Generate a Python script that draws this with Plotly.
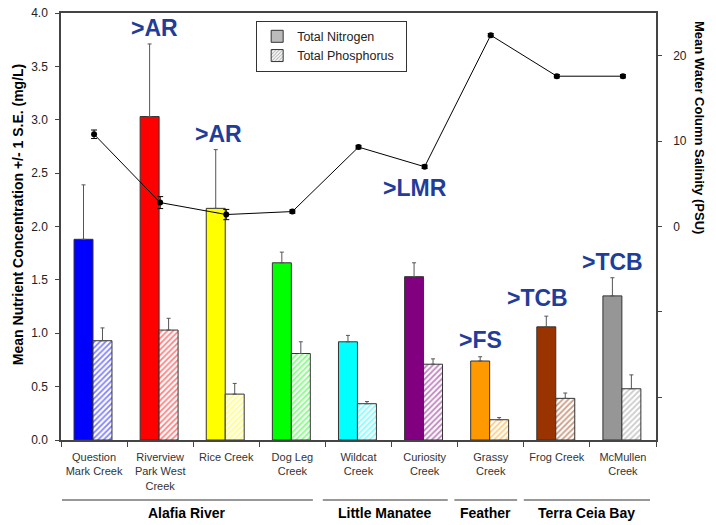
import plotly.graph_objects as go

creeks = ["Question<br>Mark Creek", "Riverview<br>Park West<br>Creek", "Rice Creek", "Dog Leg<br>Creek",
          "Wildcat<br>Creek", "Curiosity<br>Creek", "Grassy<br>Creek", "Frog Creek", "McMullen<br>Creek"]
nitrogen = [1.88, 3.03, 2.17, 1.66, 0.92, 1.53, 0.74, 1.06, 1.35]
nitrogen_se = [0.51, 0.68, 0.55, 0.10, 0.06, 0.13, 0.04, 0.10, 0.17]
phosphorus = [0.93, 1.03, 0.43, 0.81, 0.34, 0.71, 0.19, 0.39, 0.48]
phosphorus_se = [0.12, 0.11, 0.10, 0.11, 0.02, 0.05, 0.02, 0.05, 0.13]
salinity = [10.8, 2.8, 1.4, 1.75, 9.3, 7.0, 22.4, 17.6, 17.6]
salinity_se = [0.5, 0.7, 0.6, 0.2, 0.2, 0.2, 0.2, 0.2, 0.2]
colors = ["#0000FF", "#FF0000", "#FFFF00", "#00FF00", "#00FFFF", "#800080", "#FF9900", "#993300", "#969696"]
groups = ["Alafia River", "Little Manatee", "Feather<br>Sound", "Terra Ceia Bay"]
group_spans = [(-0.485, 3.31), (3.46, 5.35), (5.45, 6.40), (6.50, 8.41)]
labels = [">AR", ">AR", ">LMR", ">FS", ">TCB", ">TCB"]
label_pos = [(0.92, 3.86), (1.875, 2.87), (4.855, 2.36), (5.84, 0.94), (6.70, 1.33), (7.84, 1.67)]

FONT = "Arial, Liberation Sans, sans-serif"
W = 0.287
NB = "\u00a0"
fig = go.Figure()
fig.add_trace(go.Bar(
    x=creeks, y=nitrogen, offset=-0.303, width=W,
    marker=dict(color=colors, line=dict(color="#333333", width=1)),
    error_y=dict(type="data", symmetric=False, array=nitrogen_se, arrayminus=[0]*9,
                 color="#555555", thickness=1, width=2),
    showlegend=False))
fig.add_trace(go.Bar(
    x=creeks, y=phosphorus, offset=-0.016, width=W,
    marker=dict(color="white", line=dict(color="#333333", width=1),
                pattern=dict(shape="/", fgcolor=colors, bgcolor="white", size=4, solidity=0.45)),
    error_y=dict(type="data", symmetric=False, array=phosphorus_se, arrayminus=[0]*9,
                 color="#555555", thickness=1, width=2),
    showlegend=False))
# legend entries
fig.add_trace(go.Bar(x=[None], y=[None], name="Total Nitrogen" + NB * 2,
                     marker=dict(color="#BBBBBB", line=dict(color="#333333", width=1))))
fig.add_trace(go.Bar(x=[None], y=[None], name="Total Phosphorus" + NB * 2,
                     marker=dict(color="white", line=dict(color="#333333", width=1),
                                 pattern=dict(shape="/", fgcolor="#555555", bgcolor="white", size=3, solidity=0.4))))
fig.add_trace(go.Scatter(
    x=creeks, y=salinity, yaxis="y2", mode="lines+markers",
    line=dict(color="black", width=1), marker=dict(color="black", size=6),
    error_y=dict(type="data", array=salinity_se, color="black", thickness=1, width=3),
    showlegend=False))

annotations = []
for t, (x, y) in zip(labels, label_pos):
    annotations.append(dict(x=x, y=y, xref="x", yref="y", text=t, showarrow=False,
                            font=dict(family=FONT, size=23, color="#1F3D99", weight="bold")))
shapes = []
for g, (a, b) in zip(groups, group_spans):
    shapes.append(dict(type="line", xref="x", yref="paper", x0=a, x1=b, y0=-0.1405, y1=-0.1405,
                       line=dict(color="#333333", width=1.2)))
    annotations.append(dict(x=(a + b) / 2, y=-0.148, xref="x", yref="paper", text="<b>" + g + "</b>",
                            showarrow=False, yanchor="top",
                            font=dict(family=FONT, size=14, color="black")))
annotations.append(dict(x=-0.072, y=0.527, xref="paper", yref="paper", textangle=-90, showarrow=False,
                        xanchor="center", yanchor="middle",
                        text="<b>Mean Nutrient Concentration +/- 1 S.E. (mg/L)</b>",
                        font=dict(family=FONT, size=14, color="black")))
annotations.append(dict(x=1.072, y=0.731, xref="paper", yref="paper", textangle=90, showarrow=False,
                        xanchor="center", yanchor="middle",
                        text="<b>Mean Water Column Salinity (PSU)</b>",
                        font=dict(family=FONT, size=13, color="black")))

fig.update_layout(
    width=716, height=525, margin=dict(l=61, r=60, t=13, b=85, autoexpand=False),
    paper_bgcolor="white", plot_bgcolor="white", barmode="overlay",
    font=dict(family=FONT, color="#222222"),
    xaxis=dict(type="category", tickson="boundaries", ticks="outside", ticklen=5, tickcolor="#444",
               showline=True, linecolor="#444444", linewidth=1.5, mirror=True, tickangle=0,
               automargin=False, ticklabelstandoff=6,
               tickfont=dict(size=11, color="#333333"), range=[-0.5, 8.5], showgrid=False),
    yaxis=dict(range=[0, 4], dtick=0.5, tickformat=".1f", ticks="outside", ticklen=4, tickcolor="#444",
               showline=True, linecolor="#444444", linewidth=1.5, showgrid=False, zeroline=False,
               automargin=False, ticklabelstandoff=5, tickfont=dict(size=12, color="#222222")),
    yaxis2=dict(overlaying="y", side="right", range=[-25, 25],
                tickvals=[-20, -10, 0, 10, 20], ticktext=["", "", "0", "10", "20"],
                ticks="outside", ticklen=4, tickcolor="#444", showline=True, linecolor="#444444",
                linewidth=1.5, showgrid=False, zeroline=False, automargin=False, ticklabelstandoff=9,
                tickfont=dict(size=12, color="#222222")),
    legend=dict(x=0.328, y=0.982, xanchor="left", yanchor="top", bordercolor="#333333", borderwidth=1,
                bgcolor="white", font=dict(size=12.5, color="#222222"), itemwidth=30,
                tracegroupgap=0),
    annotations=annotations, shapes=shapes,
)
fig.write_html("out.html", post_script="document.body.style.margin='0';",
               config={"displayModeBar": False})
